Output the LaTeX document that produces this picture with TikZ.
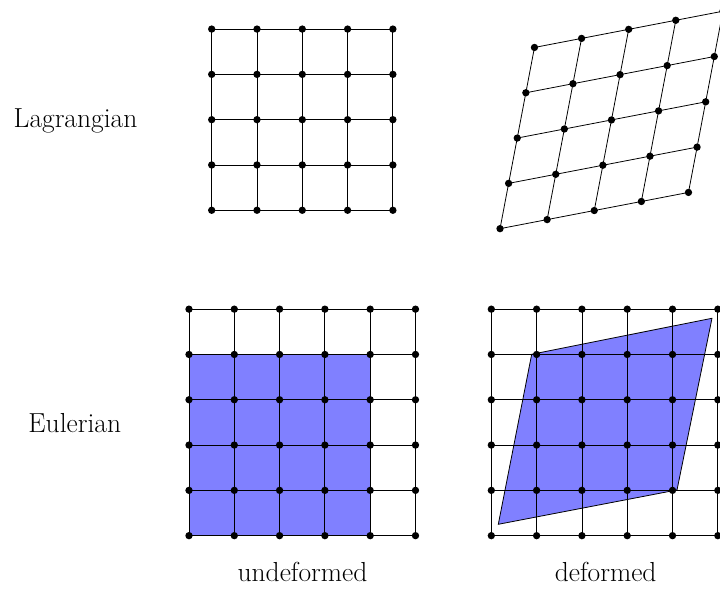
\documentclass[tikz,border=0pt]{standalone}
\usepackage{fontspec}
\begin{document}
\begin{tikzpicture}[x=1cm,y=1cm,
  dot/.style={circle,fill=black,inner sep=0pt,minimum size=4.6pt},
  gline/.style={draw=black,line width=0.5pt},
  body/.style={fill=blue!50,draw=black,line width=0.5pt},
  lbl/.style={font=\fontsize{17.28}{21}\selectfont,anchor=base}]
\useasboundingbox (0,0) rectangle (15.894,13.024);
\clip (0,0) rectangle (15.894,13.024);

% ---- coordinates ----
% Lagrangian undeformed
\foreach \i in {0,...,4}{\foreach \j in {0,...,4}{
  \coordinate (la-\i-\j) at ({4.673+\i},{8.382+\j});
  \coordinate (lb-\i-\j) at ({11.038+1.04*\i+0.19*\j},{7.976+0.2*\i+1.0*\j});
}}
% Eulerian grids
\foreach \i in {0,...,5}{\foreach \j in {0,...,5}{
  \coordinate (ea-\i-\j) at ({4.172+\i},{1.199+\j});
  \coordinate (eb-\i-\j) at ({10.846+\i},{1.199+\j});
}}
\coordinate (q1) at (11.000,1.450);
\coordinate (q2) at (14.945,2.208);
\coordinate (q3) at (15.717,5.998);
\coordinate (q4) at (11.737,5.203);

% ---- bodies ----
\path[body] (ea-0-0) rectangle (ea-4-4);
\path[body] (q1) -- (q2) -- (q3) -- (q4) -- cycle;

% ---- grid lines ----
\foreach \k in {0,...,4}{
  \draw[gline] (la-0-\k) -- (la-4-\k);
  \draw[gline] (la-\k-0) -- (la-\k-4);
  \draw[gline] (lb-0-\k) -- (lb-4-\k);
  \draw[gline] (lb-\k-0) -- (lb-\k-4);
}
\foreach \k in {0,...,5}{
  \draw[gline] (ea-0-\k) -- (ea-5-\k);
  \draw[gline] (ea-\k-0) -- (ea-\k-5);
  \draw[gline] (eb-0-\k) -- (eb-5-\k);
  \draw[gline] (eb-\k-0) -- (eb-\k-5);
}

% ---- dots ----
\foreach \i in {0,...,4}{\foreach \j in {0,...,4}{
  \node[dot] (dla-\i-\j) at (la-\i-\j) {};
  \node[dot] (dlb-\i-\j) at (lb-\i-\j) {};
}}
\foreach \i in {0,...,5}{\foreach \j in {0,...,5}{
  \node[dot] (dea-\i-\j) at (ea-\i-\j) {};
  \node[dot] (deb-\i-\j) at (eb-\i-\j) {};
}}

% ---- labels ----
\node[lbl] (lag) at (1.667,10.214) {Lagrangian};
\node[lbl] (eul) at (1.651,3.481) {Eulerian};
\node[lbl] (und) at (6.678,0.177) {undeformed};
\node[lbl] (def) at (13.37,0.177) {deformed};
\end{tikzpicture}
\end{document}
